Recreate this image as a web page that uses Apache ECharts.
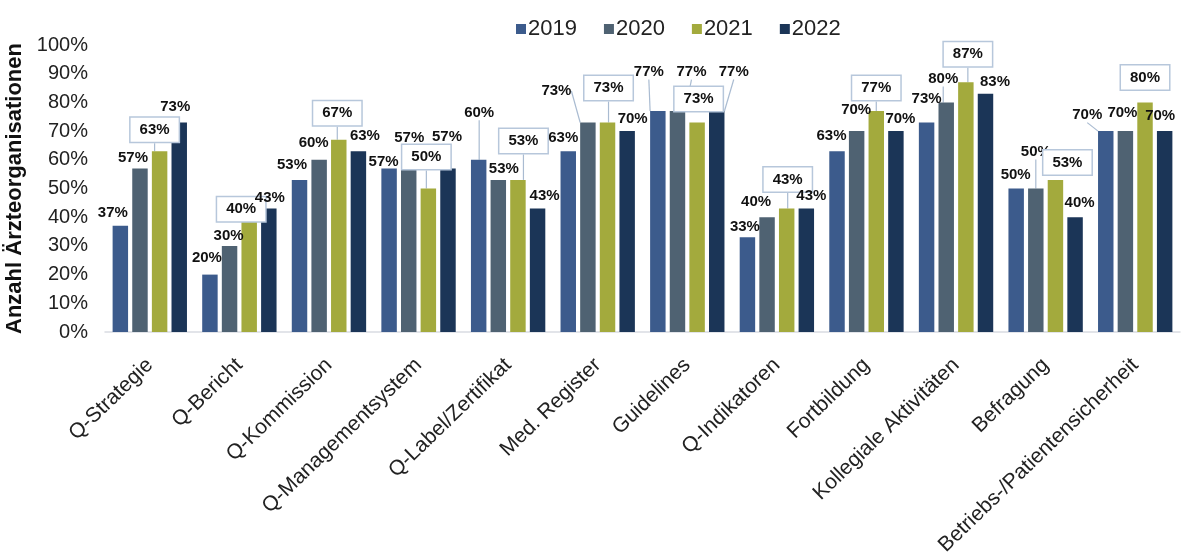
<!DOCTYPE html>
<html><head><meta charset="utf-8">
<script src="https://cdn.jsdelivr.net/npm/echarts@6/dist/echarts.min.js"></script>
<style>html,body{margin:0;padding:0;background:#fff}#c{width:1190px;height:556px}</style>
</head><body><div id="c"></div>
<script>
const categories = ["Q-Strategie","Q-Bericht","Q-Kommission","Q-Managementsystem","Q-Label/Zertifikat","Med. Register","Guidelines","Q-Indikatoren","Fortbildung","Kollegiale Aktivitäten","Befragung","Betriebs-/Patientensicherheit"];
const years = ["2019","2020","2021","2022"];
const v2019 = [37,20,53,57,60,63,77,33,63,73,50,70];
const v2020 = [57,30,60,57,53,73,77,40,70,80,50,70];
const v2021 = [63,40,67,50,53,73,73,43,77,87,53,80];
const v2022 = [73,43,63,57,43,70,77,43,70,83,40,70];
const yTicks = [0,10,20,30,40,50,60,70,80,90,100];

// label placement (style only): [dx from bar centre, label centre height above bar top] in px
const labelShift = [
  [[-7.5,13],[-3,17],[-7.5,15],[-5.5,7],[0.5,47],[-5,13],[-9,39],[-2.5,10],[-5.5,15],[0,23.5],[-0.5,13.5],[-18.5,16]],
  [[-7,11],[-1,10],[-5.5,17],[0.5,31],[5.5,11],[-31.5,31.5],[14,39],[-11,15],[-0.5,21],[-3,23.4],[0,36.5],[-3,18]],
  [[-5,21.5],[-8,8],[-1.5,26.5],[-2,31.5],[5.5,39],[1,34.5],[1.5,23.5],[1,29],[0,23],[2,28],[12,17.5],[0,25]],
  [[-4,16],[1,11],[6.5,15],[-1,32],[7,12.6],[5.5,12],[17,39],[5,12.6],[4.5,12],[9.5,12],[4.5,14],[-4.5,15]]
];
// which labels get a leader line (indices into categories)
const leaderLines = [[4,6,11],[3,5,6,9,10],[0,2,3,4,5,7,8,9],[3,6]];

const colors = ["#3c5b8c","#4f6272","#a3aa3d","#1b3557"];
const font = "Liberation Sans, Arial, sans-serif";
const seriesVals = [v2019, v2020, v2021, v2022];

const chart = echarts.init(document.getElementById('c'));
chart.setOption({
  animation:false,
  textStyle:{fontFamily:font},
  legend:{
    data:years, left:511, top:13, itemWidth:10, itemHeight:10, itemGap:27,
    icon:'rect',
    textStyle:{fontSize:22, color:'#222', fontFamily:font, padding:[0,0,0,-3]}
  },
  grid:{left:105, right:10, top:45, bottom:224, containLabel:false, outerBoundsMode:'none'},
  xAxis:{
    type:'category', data:categories,
    axisLine:{lineStyle:{color:'#d9dce2', width:1.5}},
    axisTick:{show:false},
    axisLabel:{interval:0, rotate:44, fontSize:21, color:'#222', fontFamily:font, margin:30}
  },
  yAxis:{
    type:'value', min:0, max:100, interval:10,
    name:'Anzahl Ärzteorganisationen', nameLocation:'middle', nameGap:77, nameRotate:90,
    nameTextStyle:{fontSize:22, fontWeight:'bold', color:'#111', fontFamily:font},
    splitLine:{show:false}, axisLine:{show:false}, axisTick:{show:false},
    axisLabel:{fontSize:20, color:'#222', fontFamily:font, margin:17,
      formatter:(v)=> yTicks.includes(v) ? v + '%' : ''}
  },
  series: years.map((y,i)=>({
    name:y, type:'bar', z:2,
    data: seriesVals[i].map((v,j)=>({
      value:v,
      labelLine:{show: leaderLines[i].includes(j)}
    })),
    barGap:'27%', barCategoryGap:'17%',
    itemStyle:{color:colors[i]},
    label:{
      show:true, position:'top', distance:0,
      formatter:'{c}%', fontSize:15, fontWeight:'bold', color:'#111', fontFamily:font,
      borderColor: i===2 ? '#b7c7db' : 'transparent', borderWidth: i===2 ? 1.5 : 0,
      backgroundColor: i===2 ? '#fff' : 'transparent',
      padding: i===2 ? [5,9,4,9] : 0
    },
    labelLine:{show:false, lineStyle:{color:'#a9bbd1', width:1.2}},
    labelLayout:(p)=>{
      const s = labelShift[p.seriesIndex][p.dataIndex];
      return {
        x: p.rect.x + p.rect.width/2 + s[0],
        y: p.rect.y - s[1],
        align:'center', verticalAlign:'middle'
      };
    }
  }))
});
</script></body></html>
